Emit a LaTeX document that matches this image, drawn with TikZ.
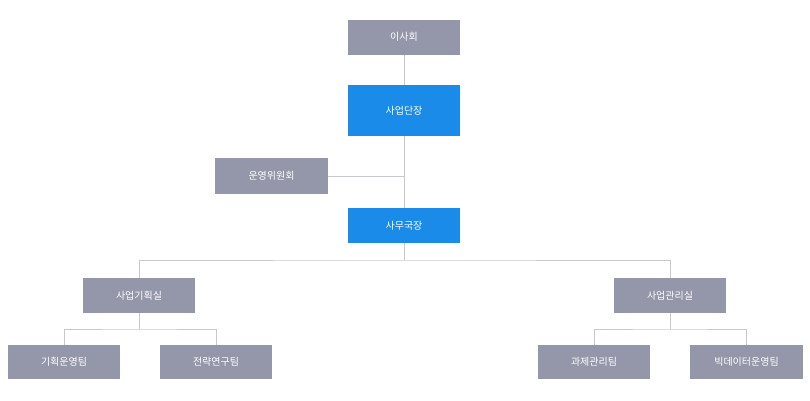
\documentclass[tikz,border=0pt]{standalone}
\usepackage{fontspec}
\newfontfamily\kr{Noto Sans CJK KR}
\definecolor{gbox}{HTML}{9496A9}
\definecolor{bbox}{HTML}{1A8BE8}
\definecolor{ln}{HTML}{C8C8D0}
\begin{document}
\begin{tikzpicture}[x=1pt,y=-1pt,
  box/.style={fill=gbox,text=white,minimum width=112pt,minimum height=35pt,inner sep=0pt,font=\kr\fontsize{10}{12}\selectfont},
  bluebox/.style={box,fill=bbox},
  conn/.style={draw=ln,line width=0.7pt}]
\useasboundingbox (0,0) rectangle (810,400);
\node[box] (isa) at (404,37) {이사회};
\node[bluebox,minimum height=51pt] (dan) at (404,110.5) {사업단장};
\node[box,minimum width=113pt,minimum height=36pt] (un) at (271.5,176) {운영위원회};
\node[bluebox] (sa) at (404,225.5) {사무국장};
\node[box] (gi) at (139,295.5) {사업기획실};
\node[box] (gw) at (670,295.5) {사업관리실};
\node[box,minimum height=34pt] (t1) at (64,362) {기획운영팀};
\node[box,minimum height=34pt] (t2) at (216,362) {전략연구팀};
\node[box,minimum height=34pt] (t3) at (594,362) {과제관리팀};
\node[box,minimum width=113pt,minimum height=34pt] (t4) at (746.5,362) {빅데이터운영팀};
\coordinate (j1) at (404,176);
\coordinate (j2) at (404,260);
\draw[conn] (isa) -- (dan);
\draw[conn] (dan) -- (sa);
\draw[conn] (un.east) -- (j1);
\draw[conn] (sa) -- (j2);
\draw[conn] (gi.north) |- (j2) -| (gw.north);
\coordinate (k1) at (139,329);
\coordinate (k2) at (670,329);
\draw[conn] (gi) -- (k1);
\draw[conn] (t1.north) |- (k1) -| (t2.north);
\draw[conn] (gw) -- (k2);
\draw[conn] (t3.north) |- (k2) -| (t4.north);
\end{tikzpicture}
\end{document}
